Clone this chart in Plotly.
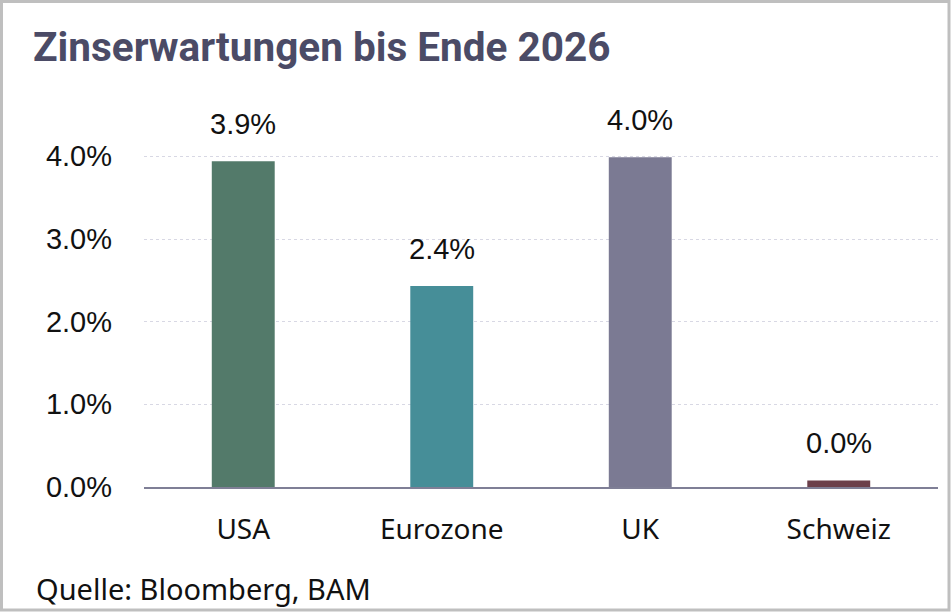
import plotly.graph_objects as go

categories = ["USA", "Eurozone", "UK", "Schweiz"]
values = [3.94, 2.43, 3.99, 0.08]
value_labels = ["3.9%", "2.4%", "4.0%", "0.0%"]
bar_colors = ["#537a6a", "#468e98", "#7b7a93", "#6b3f4a"]
y_ticks = [0, 1, 2, 3, 4]
y_tick_labels = ["0.0%", "1.0%", "2.0%", "3.0%", "4.0%"]
title_text = "Zinserwartungen bis Ende 2026"
source_text = "Quelle: Bloomberg, BAM"

W, H = 951, 612
L, R, T, B = 144, 13, 115, 125
PW, PH = W - L - R, H - T - B

def px_x(px):
    return (px - L) / PW

def px_y(py):
    return (H - B - py) / PH

fig = go.Figure()
fig.add_trace(go.Bar(
    x=categories, y=values,
    marker=dict(color=bar_colors, line=dict(width=0)),
    hoverinfo="skip",
))

for c, v, t in zip(categories, values, value_labels):
    fig.add_annotation(x=c, y=v, text=t, showarrow=False, yshift=37,
                       font=dict(family="Liberation Sans, Arial", size=29, color="#111111"))

fig.add_annotation(xref="paper", yref="paper", x=px_x(31), y=px_y(47), text=f"<b>{title_text}</b>",
                   showarrow=False, xanchor="left", yanchor="middle",
                   font=dict(family="Roboto", size=40.5, color="#4b4b66"))
fig.add_annotation(xref="paper", yref="paper", x=px_x(34), y=px_y(588), text=source_text,
                   showarrow=False, xanchor="left", yanchor="middle",
                   font=dict(family="Noto Sans", size=29, color="#111111"))

fig.add_shape(type="rect", xref="paper", yref="paper",
              x0=px_x(1.5), x1=px_x(W - 2), y0=px_y(H - 2), y1=px_y(1.5),
              line=dict(color="#bfbfbf", width=3), fillcolor="rgba(0,0,0,0)", layer="above")

fig.update_layout(
    width=W, height=H,
    margin=dict(l=L, r=R, t=T, b=B),
    paper_bgcolor="white", plot_bgcolor="white",
    bargap=0.683,
    showlegend=False,
    xaxis=dict(showline=True, linecolor="#7f7f96", linewidth=2, ticks="",
               tickfont=dict(family="Noto Sans", size=28, color="#111111"),
               ticklabelstandoff=16,
               showgrid=False, fixedrange=True),
    yaxis=dict(range=[0, 4.5], tickvals=y_ticks, ticktext=y_tick_labels,
               showgrid=True, gridcolor="#d8d8e4", griddash="dot", gridwidth=1,
               zeroline=False, ticks="", ticklabelstandoff=31,
               tickfont=dict(family="Liberation Sans, Arial", size=29, color="#111111"),
               fixedrange=True),
)

fig.write_html("out.html")
